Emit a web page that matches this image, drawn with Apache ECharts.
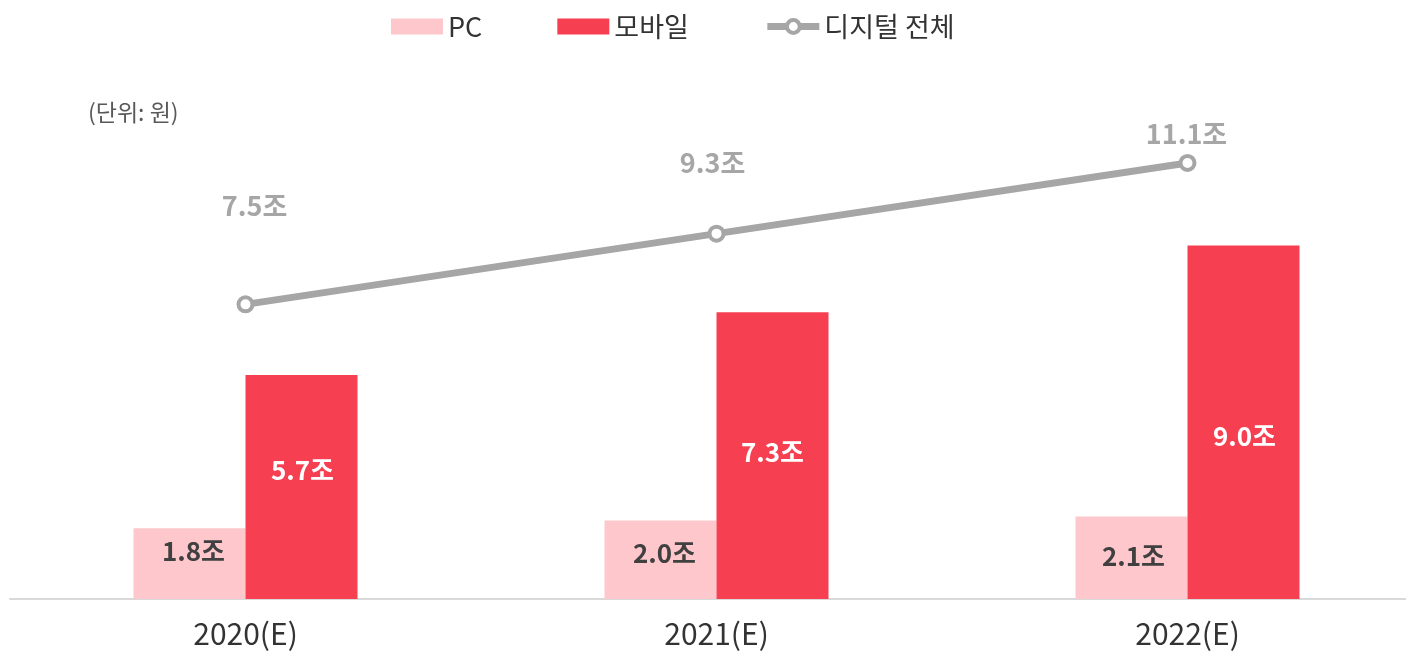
<!DOCTYPE html>
<html><head><meta charset="utf-8">
<script src="https://cdn.jsdelivr.net/npm/echarts@6/dist/echarts.min.js"></script>
<style>html,body{margin:0;padding:0;background:#fff;overflow:hidden;width:1406px;height:655px}#c{width:1423px;height:655px}</style>
</head><body><div id="c"></div>
<script>
const categories = ['2020(E)', '2021(E)', '2022(E)'];
const pcValues = [1.8, 2.0, 2.1];
const mobileValues = [5.7, 7.3, 9.0];
const totalValues = [7.5, 9.3, 11.1];
const seriesNames = ['PC', '모바일', '디지털 전체'];
const unitText = '(단위: 원)';

// label nudges (layout only)
const pcNudge = [[4, -13], [4, -7], [2, -2]];
const mobileNudge = [[1, -17], [0, -3], [1, 14]];
const totalNudge = [[9, -99], [-4, -71], [-1, -29]];

const FONT = '"Noto Sans CJK KR", "Noto Sans", sans-serif';
const fmt = p => p.value.toFixed(1) + '조';
const GRAY = '#A6A6A6';

const chart = echarts.init(document.getElementById('c'));
chart.setOption({
  animation: false,
  textStyle: { fontFamily: FONT },
  legend: {
    left: 386, top: 8,
    itemWidth: 52, itemHeight: 16, itemGap: 75,
    textStyle: { fontSize: 27, color: '#333', fontFamily: FONT },
    data: [
      { name: seriesNames[0], icon: 'rect' },
      { name: seriesNames[1], icon: 'rect' },
      { name: seriesNames[2], lineStyle: { width: 7, color: GRAY }, itemStyle: { color: '#fff', borderColor: GRAY, borderWidth: 4 } }
    ]
  },
  graphic: [{
    type: 'text', left: 88, top: 101,
    style: { text: unitText, fontSize: 23, fill: '#595959', fontFamily: FONT }
  }],
  grid: { left: 10, right: 0, top: 49, bottom: 56 },
  xAxis: {
    type: 'category', data: categories,
    axisLine: { lineStyle: { color: '#d9d9d9', width: 2 } },
    axisTick: { show: false },
    axisLabel: { fontSize: 30, color: '#333', margin: 20, fontFamily: FONT }
  },
  yAxis: { type: 'value', min: 0, max: 14, show: false, splitLine: { show: false } },
  series: [
    {
      name: seriesNames[0], type: 'bar', barWidth: 112, barGap: '0%',
      itemStyle: { color: '#FDC7CC' },
      data: pcValues.map((v, i) => ({ value: v, label: { offset: pcNudge[i] } })),
      label: { show: true, position: 'inside', formatter: fmt, fontSize: 26, fontWeight: 'bold', color: '#404040', fontFamily: FONT }
    },
    {
      name: seriesNames[1], type: 'bar', barWidth: 112,
      itemStyle: { color: '#F73F52' },
      data: mobileValues.map((v, i) => ({ value: v, label: { offset: mobileNudge[i] } })),
      label: { show: true, position: 'inside', formatter: fmt, fontSize: 26, fontWeight: 'bold', color: '#fff', fontFamily: FONT }
    },
    {
      name: seriesNames[2], type: 'line',
      symbol: 'circle', symbolSize: 14,
      lineStyle: { color: GRAY, width: 7 },
      itemStyle: { color: '#fff', borderColor: GRAY, borderWidth: 4 },
      data: totalValues.map((v, i) => ({ value: v, label: { offset: totalNudge[i] } })),
      label: { show: true, position: 'inside', formatter: fmt, fontSize: 27, fontWeight: 'bold', color: GRAY, fontFamily: FONT },
      z: 5
    }
  ]
});
</script></body></html>
